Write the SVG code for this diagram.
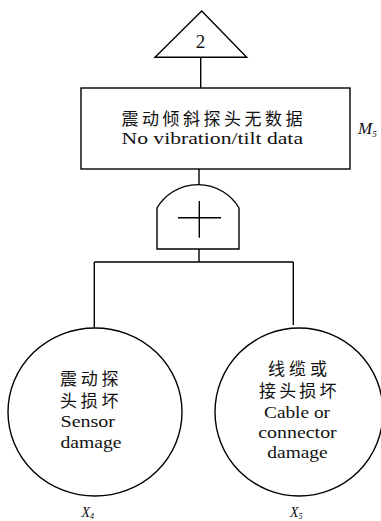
<svg xmlns="http://www.w3.org/2000/svg" width="381" height="521" viewBox="0 0 381 521">
<style>
.s{fill:#fff;stroke:#000;stroke-width:1.4}
.c{fill:none;stroke:#000;stroke-width:1.4}
.t{font-family:"Liberation Serif","Noto Sans CJK SC",serif;font-size:16px;fill:#111}
.z{font-family:"Liberation Serif","Noto Sans CJK SC",serif;font-size:17px;fill:#111}
.l{font-family:"Liberation Serif",serif;font-style:italic;fill:#111}
</style>
<rect width="381" height="521" fill="#fff"/>
<g id="connectors">
<path class="c" d="M200.7 57V88M199 169V186M199 249V262M94.3 262H293.3M94.3 262V328.5M293.3 262V325"/>
</g>
<g id="transfer">
<polygon class="s" points="201.7,11 155,57.3 246.7,57.3"/>
<text class="t" x="200.5" y="47.5" text-anchor="middle" style="font-size:19px">2</text>
</g>
<g id="M5">
<rect class="s" x="81" y="88" width="269" height="81"/>
<text class="z" x="121.5" y="125" textLength="181" lengthAdjust="spacing">震动倾斜探头无数据</text>
<text class="t" x="121.5" y="143.7" textLength="181.5" lengthAdjust="spacingAndGlyphs">No vibration/tilt data</text>
<text class="l" x="358" y="134" style="font-size:17px">M<tspan dy="3" style="font-size:9px">5</tspan></text>
</g>
<g id="orgate">
<path class="s" d="M157 249V208A47.6 47.6 0 0 1 239 208V249Z"/>
<path class="c" d="M178 217.7H221M199.3 201V237.7"/>
</g>
<g id="X4">
<ellipse class="s" cx="95" cy="412" rx="87" ry="84"/>
<text class="z" x="60" y="385" textLength="58.5" lengthAdjust="spacing">震动探</text>
<text class="z" x="60" y="406.5" textLength="58.5" lengthAdjust="spacing">头损坏</text>
<text class="t" x="60.5" y="426.7" textLength="54.5" lengthAdjust="spacingAndGlyphs">Sensor</text>
<text class="t" x="60.5" y="448" textLength="61" lengthAdjust="spacingAndGlyphs">damage</text>
<text class="l" x="81.5" y="517" style="font-size:14px">X<tspan dy="2" style="font-size:8px">4</tspan></text>
</g>
<g id="X5">
<ellipse class="s" cx="299" cy="412" rx="84" ry="84"/>
<text class="z" x="268" y="375" textLength="59" lengthAdjust="spacing">线缆或</text>
<text class="z" x="259" y="396.5" textLength="77.5" lengthAdjust="spacing">接头损坏</text>
<text class="t" x="264" y="418.3" textLength="66" lengthAdjust="spacingAndGlyphs">Cable or</text>
<text class="t" x="258.3" y="438.3" textLength="78.4" lengthAdjust="spacingAndGlyphs">connector</text>
<text class="t" x="267.3" y="458.3" textLength="60.4" lengthAdjust="spacingAndGlyphs">damage</text>
<text class="l" x="290" y="517" style="font-size:14px">X<tspan dy="2" style="font-size:8px">5</tspan></text>
</g>
</svg>
